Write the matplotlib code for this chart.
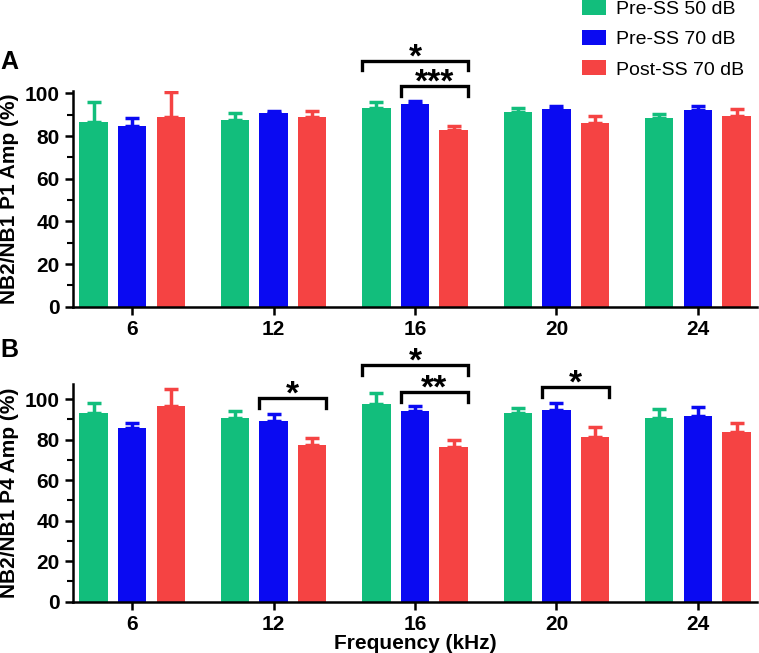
import matplotlib
matplotlib.use('Agg')
import matplotlib.pyplot as plt
from matplotlib.patches import Patch
from matplotlib.ticker import MultipleLocator
import numpy as np

plt.rcParams['font.family'] = ['Liberation Sans', 'DejaVu Sans']

freqs = ['6', '12', '16', '20', '24']
series = ['Pre-SS 50 dB', 'Pre-SS 70 dB', 'Post-SS 70 dB']
colors = ['#12BE7C', '#0A0AF2', '#F54343']

# panel A: NB2/NB1 P1 amplitude (%), mean and SEM
p1_mean = [[86.7, 87.5, 93.0, 91.1, 88.3],
           [84.9, 90.6, 94.9, 92.8, 92.3],
           [88.8, 88.8, 83.0, 86.1, 89.4]]
p1_sem = [[9.4, 3.5, 3.1, 1.9, 1.9],
          [3.7, 1.1, 1.7, 1.1, 1.8],
          [11.7, 3.1, 1.7, 3.1, 3.3]]

# panel B: NB2/NB1 P4 amplitude (%)
p4_mean = [[93.1, 90.9, 97.8, 93.2, 90.9],
           [85.6, 89.4, 94.0, 94.7, 91.6],
           [96.7, 77.2, 76.5, 81.3, 83.8]]
p4_sem = [[4.9, 3.3, 5.0, 2.2, 4.1],
          [2.8, 3.2, 2.4, 3.3, 4.3],
          [8.3, 3.5, 3.3, 4.7, 4.6]]

# significance: (group, first bar, last bar, bracket height, label)
p1_sig = [(2, 0, 2, 115.3, '*'), (2, 1, 2, 103.5, '***')]
p4_sig = [(1, 1, 2, 100.3, '*'), (2, 0, 2, 116.9, '*'),
          (2, 1, 2, 103.3, '**'), (3, 1, 2, 105.8, '*')]

offset = 0.273
width = 0.2


def draw_panel(ax, means, sems, sigs, ylabel, ytop):
    x = np.arange(len(freqs))
    for i in range(len(series)):
        xi = x + (i - 1) * offset
        ax.bar(xi, means[i], width, color=colors[i], zorder=2)
        ax.errorbar(xi, means[i], yerr=[np.zeros(len(freqs)), sems[i]], fmt='none',
                    ecolor=colors[i], elinewidth=2.5, capsize=4.7, capthick=2.5, zorder=1)
    for g, a, b, h, lab in sigs:
        x0 = g + (a - 1) * offset - width / 2
        x1 = g + (b - 1) * offset + width / 2
        tip = 0.045 * ytop
        ax.plot([x0, x0, x1, x1], [h - tip, h, h, h - tip], color='black', lw=2.4,
                clip_on=False, solid_joinstyle='miter')
        # asterisks sit high in their box, so anchor the baseline below the bar
        ax.annotate(lab, xy=((x0 + x1) / 2, h), xytext=(0, -4.0),
                    textcoords='offset points', ha='center', va='baseline',
                    fontsize=24, fontweight='bold', annotation_clip=False)
    ax.set_xlim(-0.42, 4.42)
    ax.set_ylim(0, ytop)
    ax.set_xticks(x)
    ax.set_xticklabels(freqs)
    ax.set_yticks([0, 20, 40, 60, 80, 100])
    ax.yaxis.set_minor_locator(MultipleLocator(10))
    ax.set_ylabel(ylabel, fontsize=15, fontweight='bold', labelpad=4)
    for s in ['top', 'right']:
        ax.spines[s].set_visible(False)
    for s in ['left', 'bottom']:
        ax.spines[s].set_linewidth(1.8)
    ax.tick_params(axis='both', which='major', width=1.8, length=6, labelsize=15)
    ax.tick_params(axis='y', which='minor', width=1.5, length=4)
    for t in ax.get_xticklabels() + ax.get_yticklabels():
        t.set_fontweight('bold')


fig = plt.figure(figsize=(7.59, 6.53), dpi=100)
axA = fig.add_axes([0.0958, 0.5303, 0.902, 0.3267 * 1.01])
axB = fig.add_axes([0.0958, 0.0786, 0.902, 0.3335])

draw_panel(axA, p1_mean, p1_sem, p1_sig, 'NB2/NB1 P1 Amp (%)', 101)
draw_panel(axB, p4_mean, p4_sem, p4_sig, 'NB2/NB1 P4 Amp (%)', 107.5)
axB.set_xlabel('Frequency (kHz)', fontsize=15, fontweight='bold', labelpad=0)

fig.text(0.0, 0.905, 'A', fontsize=18, fontweight='bold', va='center')
fig.text(0.0, 0.464, 'B', fontsize=18, fontweight='bold', va='center')

handles = [Patch(facecolor=c) for c in colors]
fig.legend(handles, series, loc='upper left', bbox_to_anchor=(0.757, 1.012),
           frameon=False, fontsize=14, handlelength=1.2, handleheight=0.8,
           handletextpad=0.55, labelspacing=0.62, borderaxespad=0)

fig.savefig('out.png', dpi=100)
